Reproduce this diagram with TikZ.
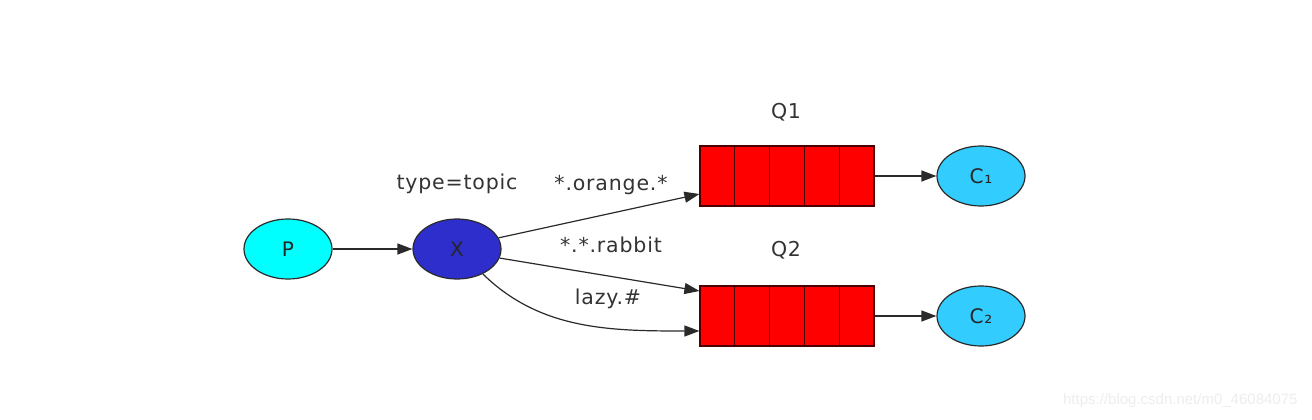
\documentclass[tikz,border=0pt]{standalone}
\usepackage{fontspec}
\setmainfont{DejaVu Sans}[LetterSpace=4]
\newfontfamily\wmfont{Liberation Sans}
\usetikzlibrary{arrows.meta,shapes.geometric,calc}
\definecolor{pcol}{HTML}{00FFFF}
\definecolor{xcol}{HTML}{2E2ECC}
\definecolor{ccol}{HTML}{33CCFF}
\definecolor{qcol}{HTML}{FF0000}
\definecolor{linecol}{HTML}{2A2A2A}
\definecolor{txtcol}{HTML}{333333}
\definecolor{wmcol}{HTML}{EDEDED}
\begin{document}
\begin{tikzpicture}[x=1pt,y=-1pt,
  ell/.style={ellipse,draw=linecol,line width=1.2pt,minimum width=88pt,minimum height=60pt,inner sep=0pt,font=\fontsize{20}{22}\selectfont,text=black!85},
  queue/.style={rectangle,draw=black!70!red,line width=1.2pt,fill=qcol,minimum width=174pt,minimum height=60pt,inner sep=0pt},
  lbl/.style={font=\fontsize{20.5}{22}\selectfont,text=txtcol,inner sep=0pt},
  conn/.style={draw=linecol,line width=1.2pt,-{Triangle[length=15pt,width=11pt]}}
]
\useasboundingbox (0,0) rectangle (1312,420);
\node[ell,fill=pcol] (p) at (288,249) {P};
\node[ell,fill=xcol] (x) at (457,249) {X};
\node[queue] (q1) at (787,176) {};
\node[queue] (q2) at (787,316) {};
\foreach \q in {q1,q2}{
  \foreach \f in {0.2,0.4,0.6,0.8}{
    \draw[black!70!red,line width=1.2pt] ($(\q.north west)!\f!(\q.north east)$) -- ($(\q.south west)!\f!(\q.south east)$);
  }
}
\node[ell,fill=ccol] (c1) at (981,176) {C₁};
\node[ell,fill=ccol] (c2) at (981,316) {C₂};
\node[lbl] (lq1) at (786,112) {Q1};
\node[lbl] (lq2) at (786,250) {Q2};
\node[lbl] (ltype) at (457,184) {type=topic};
\node[lbl] (lor) at (611,185) {*.orange.*};
\node[lbl] (lra) at (611,245) {*.*.rabbit};
\node[lbl] (lla) at (608,299) {lazy.\#};
\draw[conn] (p) -- (x);
\draw[conn] (x.15) -- ([yshift=-18pt]q1.west);
\draw[conn] (x.-12) -- ([yshift=25pt]q2.west);
\draw[conn] (x.-44) .. controls (540,330) and (610,331) .. ([yshift=-15pt]q2.west);
\draw[conn] (q1) -- (c1);
\draw[conn] (q2.east) -- (c2);
\node[font=\wmfont\fontsize{15}{17}\selectfont,text=wmcol,anchor=east] (wm) at (1301,401) {https://blog.csdn.net/m0\_46084075};
\end{tikzpicture}
\end{document}
